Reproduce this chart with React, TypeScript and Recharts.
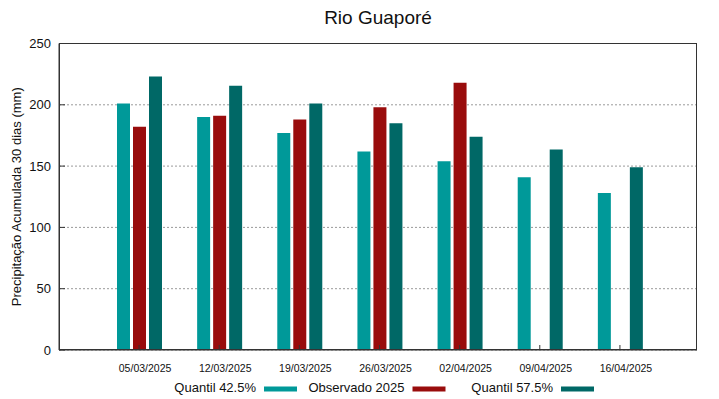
import React from 'react';
import { BarChart, Bar, XAxis, YAxis, CartesianGrid } from 'recharts';

const categories = ['05/03/2025', '12/03/2025', '19/03/2025', '26/03/2025', '02/04/2025', '09/04/2025', '16/04/2025'];
const quantil425 = [201, 190, 177, 162, 154, 141, 128];
const observado: (number | null)[] = [182, 191, 188, 198, 218, null, null];
const quantil575 = [223, 215.5, 201, 185, 174, 163.5, 149];
const yTicks = [0, 50, 100, 150, 200, 250];

const seriesNames = ['Quantil 42.5%', 'Observado 2025', 'Quantil 57.5%'];
const seriesKeys = ['q425', 'obs', 'q575'];
const seriesColors = ['#009999', '#990c0c', '#006866'];

const data = categories.map((c, i) => ({
  date: c,
  q425: quantil425[i],
  obs: observado[i],
  q575: quantil575[i],
}));

const FONT = '"Liberation Sans", Arial, sans-serif';
const W = 719;
const H = 399;
const PLOT_LEFT = 59;
const PLOT_RIGHT = 697;
const PLOT_TOP = 43.5;
const PLOT_BOTTOM = 350;

const BottomTick = (props: any) => {
  const { x, y, payload } = props;
  return (
    <g>
      <line x1={x} y1={y} x2={x} y2={y - 5} stroke="#333" strokeWidth={1} />
      <text x={x + 6} y={y + 22} textAnchor="middle" fontSize={10.5} fontFamily={FONT} fill="#111">
        {payload.value}
      </text>
    </g>
  );
};

const TopTick = (props: any) => {
  const { x, y } = props;
  return <line x1={x} y1={y} x2={x} y2={y + 5} stroke="#333" strokeWidth={1} />;
};

const LeftTick = (props: any) => {
  const { x, y, payload } = props;
  return (
    <g>
      <line x1={x} y1={y} x2={x + 6} y2={y} stroke="#333" strokeWidth={1} />
      <text x={x - 8} y={y + 4.5} textAnchor="end" fontSize={13} fontFamily={FONT} fill="#111">
        {payload.value}
      </text>
    </g>
  );
};

const RightTick = (props: any) => {
  const { x, y } = props;
  return <line x1={x} y1={y} x2={x - 6} y2={y} stroke="#333" strokeWidth={1} />;
};

export default function App() {
  return (
    <div style={{ position: 'absolute', left: 0, top: 0, width: W, height: H, background: '#fff' }}>
      <BarChart
        width={W}
        height={H}
        data={data}
        margin={{ top: PLOT_TOP, right: W - PLOT_RIGHT, bottom: H - PLOT_BOTTOM - 30, left: 0 }}
        barSize={13}
        barGap={3}
      >
        <CartesianGrid vertical={false} stroke="#9a9a9a" strokeDasharray="2 2" />
        <XAxis
          dataKey="date"
          type="category"
          padding={{ left: 40, right: 37 }}
          height={30}
          tickSize={0}
          tickMargin={0}
          tickLine={false}
          axisLine={{ stroke: '#333' }}
          tick={<BottomTick />}
          interval={0}
        />
        <XAxis
          xAxisId="top"
          dataKey="date"
          type="category"
          orientation="top"
          padding={{ left: 40, right: 37 }}
          height={0}
          tickSize={0}
          tickMargin={0}
          tickLine={false}
          axisLine={{ stroke: '#333' }}
          tick={<TopTick />}
          interval={0}
        />
        <YAxis
          domain={[0, 250]}
          ticks={yTicks}
          width={PLOT_LEFT}
          tickSize={0}
          tickMargin={0}
          tickLine={false}
          axisLine={{ stroke: '#333' }}
          tick={<LeftTick />}
          interval={0}
        />
        <YAxis
          yAxisId="right"
          orientation="right"
          domain={[0, 250]}
          ticks={yTicks}
          width={0}
          tickSize={0}
          tickMargin={0}
          tickLine={false}
          axisLine={{ stroke: '#333' }}
          tick={<RightTick />}
          interval={0}
        />
        {seriesKeys.map((k, i) => (
          <Bar key={k} dataKey={k} name={seriesNames[i]} fill={seriesColors[i]} isAnimationActive={false} />
        ))}
      </BarChart>
      <svg
        width={W}
        height={H}
        style={{ position: 'absolute', left: 0, top: 0, pointerEvents: 'none' }}
      >
        <rect
          x={PLOT_LEFT + 0.5}
          y={PLOT_TOP}
          width={PLOT_RIGHT - PLOT_LEFT - 1}
          height={PLOT_BOTTOM - PLOT_TOP - 0.5}
          fill="none"
          stroke="#333"
          strokeWidth={1}
        />
        <text x={(PLOT_LEFT + PLOT_RIGHT) / 2} y={24} textAnchor="middle" fontSize={19} fontFamily={FONT} fill="#111">
          Rio Guaporé
        </text>
        <text
          x={21}
          y={(PLOT_TOP + PLOT_BOTTOM) / 2}
          transform={`rotate(-90 21 ${(PLOT_TOP + PLOT_BOTTOM) / 2})`}
          textAnchor="middle"
          fontSize={13}
          fontFamily={FONT}
          fill="#111"
        >
          Precipitação Acumulada 30 dias (mm)
        </text>
        {seriesNames.map((n, i) => (
          <g key={n}>
            <text x={256 + 148.5 * i} y={392} textAnchor="end" fontSize={13} fontFamily={FONT} fill="#111">
              {n}
            </text>
            <rect x={264 + 148.5 * i} y={386.5} width={33} height={5} fill={seriesColors[i]} />
          </g>
        ))}
      </svg>
    </div>
  );
}
